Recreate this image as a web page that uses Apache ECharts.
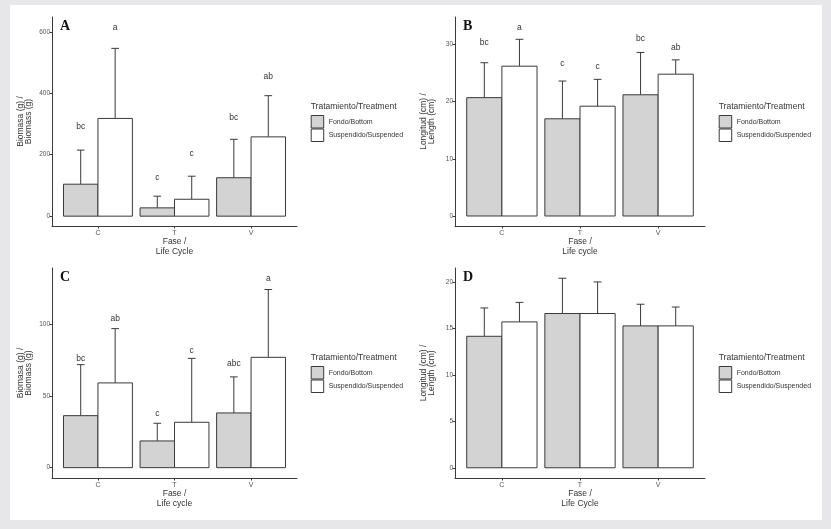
<!DOCTYPE html>
<html>
<head>
<meta charset="utf-8">
<script src="https://cdn.jsdelivr.net/npm/echarts@6/dist/echarts.min.js"></script>
<style>
html,body{margin:0;padding:0;background:#e7e7e9;}
#frame{position:absolute;left:10px;top:5px;width:812px;height:515px;background:#fff;}
#chart{position:absolute;left:0;top:0;width:831px;height:529px;}
</style>
</head>
<body>
<div id="frame"></div>
<div id="chart"></div>
<script>
// ---- data ----
const categories = ['C', 'T', 'V'];
const seriesNames = ['Fondo/Bottom', 'Suspendido/Suspended'];

// Panel A: biomass (g), life cycle
const aFondoMean = [104, 27, 125];
const aFondoSd = [111, 38, 125];
const aSuspMean = [318, 55, 258];
const aSuspSd = [228, 75, 134];
const aFondoLetters = ['bc', 'c', 'bc'];
const aFondoLetterY = [291, 124, 320];
const aSuspLetters = ['a', 'c', 'ab'];
const aSuspLetterY = [614, 202, 453];
const aTicks = [0, 200, 400, 600];

// Panel B: length (cm), life cycle
const bFondoMean = [20.7, 17.0, 21.2];
const bFondoSd = [6.1, 6.6, 7.4];
const bSuspMean = [26.2, 19.2, 24.8];
const bSuspSd = [4.7, 4.7, 2.5];
const bFondoLetters = ['bc', 'c', 'bc'];
const bFondoLetterY = [30.4, 26.7, 31.1];
const bSuspLetters = ['a', 'c', 'ab'];
const bSuspLetterY = [33.0, 26.1, 29.5];
const bTicks = [0, 10, 20, 30];

// Panel C: biomass (g)
const cFondoMean = [36.2, 18.6, 38.1];
const cFondoSd = [35.5, 12.3, 25.1];
const cSuspMean = [59.0, 31.6, 76.8];
const cSuspSd = [37.8, 44.5, 47.2];
const cFondoLetters = ['bc', 'c', 'abc'];
const cFondoLetterY = [75.7, 37.4, 72.4];
const cSuspLetters = ['ab', 'c', 'a'];
const cSuspLetterY = [103.5, 81.5, 131.4];
const cTicks = [0, 50, 100];

// Panel D: length (cm)
const dFondoMean = [14.15, 16.6, 15.27];
const dFondoSd = [3.05, 3.8, 2.33];
const dSuspMean = [15.7, 16.6, 15.27];
const dSuspSd = [2.1, 3.4, 2.03];
const dTicks = [0, 5, 10, 15, 20];

// ---- layout ----
const FONT = 'Liberation Sans, Arial, sans-serif';
const LINE = '#3a3a3a';
const FILLS = ['#d3d3d3', '#ffffff'];

const panels = [
  {letter:'A', grid:{left:52, top:17, width:245, height:209}, ymin:-32, ymax:648, ticks:aTicks,
   yname:'Biomasa (g) /\nBiomass (g)', xname:'Fase /\nLife Cycle',
   means:[aFondoMean, aSuspMean], sds:[aFondoSd, aSuspSd],
   letters:[aFondoLetters, aSuspLetters], letterY:[aFondoLetterY, aSuspLetterY]},
  {letter:'B', grid:{left:455, top:17, width:250, height:209}, ymin:-1.75, ymax:34.8, ticks:bTicks,
   yname:'Longitud (cm) /\nLength (cm)', xname:'Fase /\nLife cycle',
   means:[bFondoMean, bSuspMean], sds:[bFondoSd, bSuspSd],
   letters:[bFondoLetters, bSuspLetters], letterY:[bFondoLetterY, bSuspLetterY]},
  {letter:'C', grid:{left:52, top:268, width:245, height:210}, ymin:-7.2, ymax:139, ticks:cTicks,
   yname:'Biomasa (g) /\nBiomass (g)', xname:'Fase /\nLife cycle',
   means:[cFondoMean, cSuspMean], sds:[cFondoSd, cSuspSd],
   letters:[cFondoLetters, cSuspLetters], letterY:[cFondoLetterY, cSuspLetterY]},
  {letter:'D', grid:{left:455, top:268, width:250, height:210}, ymin:-1.1, ymax:21.5, ticks:dTicks,
   yname:'Longitud (cm) /\nLength (cm)', xname:'Fase /\nLife Cycle',
   means:[dFondoMean, dSuspMean], sds:[dFondoSd, dSuspSd],
   letters:null, letterY:null}
];

const grids = [], xAxes = [], yAxes = [], series = [], legends = [], graphics = [];
const catPos = categories.map((c, i) => i + 1);

panels.forEach((p, pi) => {
  grids.push(Object.assign({containLabel:false, outerBoundsMode:'none'}, p.grid));
  xAxes.push({
    gridIndex: pi, type:'value', min:0.4, max:3.6,
    axisLine:{show:true, onZero:false, lineStyle:{color:LINE, width:1}},
    axisTick:{show:true, customValues:catPos, length:2.5, lineStyle:{color:LINE}},
    axisLabel:{customValues:catPos, formatter:v => categories[Math.round(v) - 1],
               fontSize:7, color:'#555', fontFamily:FONT, margin:4},
    splitLine:{show:false},
    name:p.xname, nameLocation:'middle', nameGap:11, nameMoveOverlap:false,
    nameTextStyle:{fontSize:8.5, color:'#333', fontFamily:FONT, lineHeight:10, verticalAlign:'top'}
  });
  yAxes.push({
    gridIndex: pi, type:'value', min:p.ymin, max:p.ymax,
    axisLine:{show:true, onZero:false, lineStyle:{color:LINE, width:1}},
    axisTick:{show:true, customValues:p.ticks, length:2.5, lineStyle:{color:LINE}},
    axisLabel:{customValues:p.ticks, fontSize:6.5, color:'#555', fontFamily:FONT, margin:2},
    splitLine:{show:false},
    name:p.yname, nameLocation:'middle', nameRotate:90, nameGap:19, nameMoveOverlap:false,
    nameTextStyle:{fontSize:8.5, color:'#333', fontFamily:FONT, lineHeight:8.5, verticalAlign:'bottom'}
  });

  [0, 1].forEach(s => {
    const data = categories.map((c, i) => [i + 1, p.means[s][i], p.sds[s][i]]);
    series.push({
      type:'custom', name:seriesNames[s], xAxisIndex:pi, yAxisIndex:pi,
      itemStyle:{color:FILLS[s], borderColor:LINE},
      data:data, z:2,
      renderItem:(params, api) => {
        const x = api.value(0), m = api.value(1), sd = api.value(2);
        const x0 = s === 0 ? x - 0.45 : x;
        const x1 = s === 0 ? x : x + 0.45;
        const xc = (x0 + x1) / 2;
        const pTL = api.coord([x0, m]);
        const pBR = api.coord([x1, 0]);
        const pTop = api.coord([xc, m + sd]);
        const pMid = api.coord([xc, m]);
        const capL = api.coord([xc - 0.05, m + sd]);
        const capR = api.coord([xc + 0.05, m + sd]);
        return {type:'group', children:[
          {type:'line', shape:{x1:pMid[0], y1:pMid[1], x2:pTop[0], y2:pTop[1]},
           style:{stroke:LINE, lineWidth:1}},
          {type:'line', shape:{x1:capL[0], y1:capL[1], x2:capR[0], y2:capR[1]},
           style:{stroke:LINE, lineWidth:1}},
          {type:'rect', shape:{x:pTL[0], y:pTL[1], width:pBR[0] - pTL[0], height:pBR[1] - pTL[1]},
           style:{fill:FILLS[s], stroke:LINE, lineWidth:1}}
        ]};
      }
    });
    if (p.letters) {
      const ldata = categories.map((c, i) => [i + 1, p.letterY[s][i], p.letters[s][i]]);
      series.push({
        type:'custom', name:seriesNames[s] + ' letters', xAxisIndex:pi, yAxisIndex:pi,
        data:ldata, z:3, silent:true,
        renderItem:(params, api) => {
          const x = api.value(0) + (s === 0 ? -0.225 : 0.225);
          const pt = api.coord([x, api.value(1)]);
          return {type:'text', x:pt[0], y:pt[1],
            style:{text:ldata[params.dataIndex][2], fill:'#333', font:'8.5px ' + FONT,
                   textAlign:'center', textVerticalAlign:'middle'}};
        }
      });
    }
  });

  const lx = p.grid.left + p.grid.width + 13.7;
  const ly = p.grid.top + 98;
  legends.push({
    orient:'vertical', left:lx, top:ly, padding:0, itemGap:0,
    itemWidth:12.5, itemHeight:12.5, icon:'rect', selectedMode:false,
    textStyle:{fontSize:7, color:'#333', fontFamily:FONT},
    data:seriesNames.map((n, s) => ({name:n, icon:'rect',
      itemStyle:{color:FILLS[s], borderColor:LINE, borderWidth:1}}))
  });
  graphics.push({type:'text', x:lx, y:ly - 8, style:{text:'Tratamiento/Treatment',
    font:'8.5px ' + FONT, fill:'#333', textVerticalAlign:'middle'}});
  graphics.push({type:'text', x:p.grid.left + 8, y:p.grid.top + 9, style:{text:p.letter,
    font:'bold 14px "Liberation Serif", "Times New Roman", serif', fill:'#111', textVerticalAlign:'middle'}});
});

const chart = echarts.init(document.getElementById('chart'), null, {renderer:'canvas'});
chart.setOption({
  animation:false,
  backgroundColor:'transparent',
  grid:grids, xAxis:xAxes, yAxis:yAxes, series:series, legend:legends,
  graphic:graphics, tooltip:{show:false}
});
</script>
</body>
</html>
